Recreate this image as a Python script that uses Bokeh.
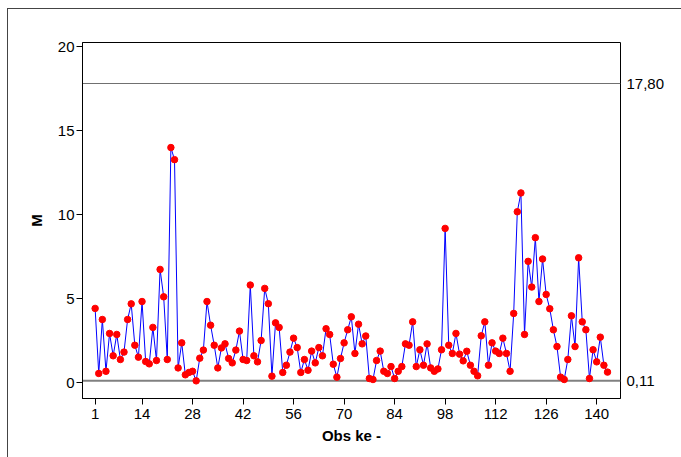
from bokeh.plotting import figure
from bokeh.models import Range1d, FixedTicker, LinearAxis, Span
from bokeh.embed import file_html
from bokeh.resources import INLINE

obs = list(range(1, 144))
values = [
    4.42, 0.55, 3.76, 0.68, 2.93, 1.60, 2.87, 1.38, 1.82, 3.76,
    4.69, 2.23, 1.52, 4.83, 1.26, 1.12, 3.29, 1.32, 6.74, 5.11,
    1.38, 13.99, 13.27, 0.88, 2.37, 0.47, 0.61, 0.68, 0.11, 1.46,
    1.94, 4.83, 3.42, 2.23, 0.88, 2.07, 2.31, 1.44, 1.18, 1.94,
    3.07, 1.38, 1.32, 5.81, 1.60, 1.24, 2.51, 5.61, 4.70, 0.39,
    3.56, 3.29, 0.61, 1.04, 1.82, 2.65, 2.09, 0.61, 1.38, 0.74,
    1.88, 1.18, 2.09, 1.60, 3.21, 2.87, 1.10, 0.33, 1.44, 2.37,
    3.15, 3.92, 1.74, 3.48, 2.31, 2.78, 0.25, 0.19, 1.32, 1.88,
    0.68, 0.55, 0.96, 0.25, 0.68, 0.96, 2.31, 2.23, 3.62, 0.96,
    1.96, 1.04, 2.31, 0.88, 0.68, 0.82, 1.96, 9.18, 2.23, 1.74,
    2.93, 1.70, 1.30, 1.87, 1.04, 0.68, 0.41, 2.79, 3.62, 1.04,
    2.37, 1.88, 1.74, 2.65, 1.74, 0.68, 4.12, 10.17, 11.29, 2.87,
    7.22, 5.69, 8.63, 4.83, 7.36, 5.25, 4.40, 3.15, 2.15, 0.33,
    0.19, 1.38, 3.98, 2.15, 7.43, 3.62, 3.15, 0.25, 1.96, 1.24,
    2.71, 1.04, 0.63,
]
x_ticks = [1, 14, 28, 42, 56, 70, 84, 98, 112, 126, 140]
y_ticks = [0, 5, 10, 15, 20]
upper_limit = 17.80
center_line = 0.11
limit_labels = {0.11: "0,11", 17.8: "17,80"}

FONT = "Liberation Sans"

p = figure(width=674, height=449,
           x_range=Range1d(-2.5, 146.6), y_range=Range1d(-0.94, 20.24),
           output_backend="svg", toolbar_location=None,
           min_border_left=74, min_border_right=62,
           min_border_top=33, min_border_bottom=60)
p.margin = (8, 0, 0, 7)
p.styles = {"border-top": "1px solid #444444", "border-left": "1px solid #444444"}

p.grid.visible = False
p.outline_line_color = "black"
p.outline_line_width = 1
p.background_fill_color = "white"
p.border_fill_color = "white"

for loc, col, w in [(upper_limit, "#707070", 1), (center_line, "#808080", 2)]:
    p.add_layout(Span(location=loc, dimension="width", line_color=col,
                      line_width=w, level="underlay"))

p.line(obs, values, line_color="#0000FF", line_width=1)
p.scatter(obs, values, size=6.5, fill_color="#FF0000", line_color="#FF0000")

p.xaxis.ticker = FixedTicker(ticks=x_ticks)
p.yaxis.ticker = FixedTicker(ticks=y_ticks)
for ax in (p.xaxis[0], p.yaxis[0]):
    ax.minor_tick_line_color = None
    ax.major_tick_in = 0
    ax.major_tick_out = 6
    ax.major_tick_line_color = "black"
    ax.axis_line_color = "black"
    ax.major_label_text_font = FONT
    ax.major_label_text_font_size = "15px"
    ax.major_label_text_color = "black"
    ax.axis_label_text_font = FONT
    ax.axis_label_text_font_style = "bold"
    ax.axis_label_text_font_size = "15px"
    ax.axis_label_text_color = "black"

p.xaxis.axis_label = "Obs ke -"
p.xaxis.major_label_standoff = 4
p.xaxis.axis_label_standoff = 5
p.yaxis.axis_label = "M"
p.yaxis.major_label_standoff = 2
p.yaxis.axis_label_standoff = 10

right = LinearAxis(ticker=FixedTicker(ticks=[center_line, upper_limit]),
                   major_label_overrides=limit_labels)
right.axis_line_color = None
right.major_tick_in = 0
right.major_tick_out = 0
right.minor_tick_line_color = None
right.major_label_standoff = 6
right.major_label_text_font = FONT
right.major_label_text_font_size = "15px"
right.major_label_text_color = "black"
p.add_layout(right, "right")

open("out.html", "w").write(file_html(p, INLINE))
